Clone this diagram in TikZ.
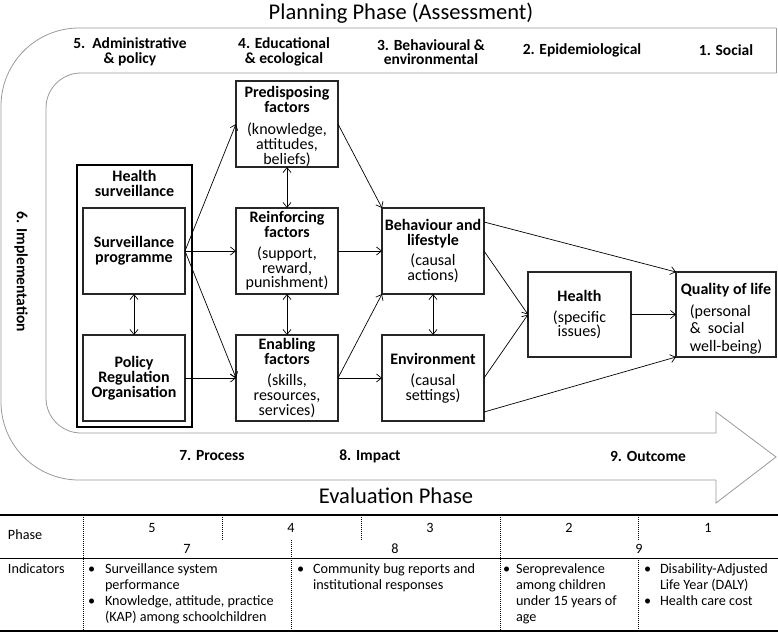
\documentclass[tikz,border=0pt]{standalone}
\usepackage{fontspec}
\setmainfont{Carlito}
\usetikzlibrary{arrows.meta,calc}
\begin{document}
\begin{tikzpicture}[x=1pt,y=-1pt,
  every node/.style={inner sep=0pt, outer sep=0pt},
  boxtext/.style={align=center, font=\fontsize{16}{14.8}\selectfont},
  box/.style={boxtext, draw=black!85, line width=1.1pt, minimum width=102pt, minimum height=86pt},
  band/.style={draw=black!40, line width=0.8pt},
  conn/.style={draw=black, line width=0.7pt, -{Straight Barb[length=5pt,width=8pt]}},
  dconn/.style={draw=black, line width=0.7pt, {Straight Barb[length=5pt,width=8pt]}-{Straight Barb[length=5pt,width=8pt]}},
  lbl/.style={font=\fontsize{15.5}{14.5}\selectfont\bfseries, align=center},
  ttl/.style={font=\fontsize{22.5}{26}\selectfont},
  tab/.style={font=\fontsize{14.2}{16}\selectfont, anchor=mid west},
  tabc/.style={font=\fontsize{14.2}{16}\selectfont},
  vline/.style={draw=black, line width=0.8pt, dash pattern=on 1pt off 1pt},
  hline/.style={draw=black, line width=1.3pt},
]
\useasboundingbox (0,0) rectangle (778,634);

% ---- big U-shaped arrow ----
\draw[band, rounded corners=78] (776,28) -- (1,28) -- (1,480) -- (716,480);
\draw[band] (716,480) -- (716,503) -- (776,457) -- (716,412) -- (716,433);
\draw[band, rounded corners=35] (716,433) -- (46,433) -- (46,73) -- (776,73);
\draw[band] (776,73) -- (776,28);

% ---- titles and band labels ----
\node[ttl] (plan) at (401,13) {Planning Phase (Assessment)};
\node[ttl] (eval) at (396,496) {Evaluation Phase};
\node[lbl] (p5) at (130,52) {5.\ \ Administrative\\\& policy};
\node[lbl] (p4) at (284,52) {4. Educational\\\& ecological};
\node[lbl] (p3) at (431,52) {3. Behavioural \&\\environmental};
\node[lbl] (p2) at (582,50) {2. Epidemiological};
\node[lbl] (p1) at (726,50) {1. Social};
\node[lbl, rotate=-90] (p6) at (21,272) {6. Implementation};
\node[lbl] (p7) at (212,456) {7. Process};
\node[lbl] (p8) at (370,456) {8. Impact};
\node[lbl] (p9) at (648,456) {9. Outcome};

% ---- boxes ----
\node[draw=black, line width=2pt, minimum width=115pt, minimum height=262pt] (hs) at (134.5,296) {};
\node[lbl, anchor=north, font=\fontsize{16}{14.8}\selectfont\bfseries] (hst) at (134.5,170) {Health\\surveillance};
\node[box] (sp) at (134,251) {\textbf{Surveillance}\\\textbf{programme}};
\node[box] (pol) at (134,378) {\textbf{Policy}\\\textbf{Regulation}\\\textbf{Organisation}};
\node[box] (pred) at (287,124) {};
\node[boxtext] (predt) at (287,126.5) {\textbf{Predisposing}\\\textbf{factors}\\[7pt](knowledge,\\attitudes,\\beliefs)};
\node[box] (reinf) at (287,251) {\textbf{Reinforcing}\\\textbf{factors}\\[6pt](support,\\reward,\\punishment)};
\node[box] (enab) at (287,378) {\textbf{Enabling}\\\textbf{factors}\\[6pt](skills,\\resources,\\services)};
\node[box] (beh) at (433,251) {\textbf{Behaviour and}\\\textbf{lifestyle}\\[6pt](causal\\actions)};
\node[box] (env) at (433,378) {\textbf{Environment}\\[6pt](causal\\settings)};
\node[box, minimum width=103pt, minimum height=85pt] (health) at (579.5,314.5) {\textbf{Health}\\[6pt](specific\\issues)};
\node[box, minimum width=100pt, minimum height=85pt] (qol) at (726,314.5) {};
\node[boxtext] (qolt) at (726,320) {\textbf{Quality of life}\\[6pt]{\fontsize{16}{17.5}\selectfont\begin{tabular}{@{}l@{}}(personal\\\&\ \ social\\well-being)\end{tabular}}};

% ---- connectors ----
\draw[conn] (sp.east) -- (pred.west);
\draw[conn] (sp.east) -- (reinf.west);
\draw[conn] (sp.east) -- (enab.west);
\draw[conn] (pol.east) -- (enab.west);
\draw[dconn] (sp.south) -- (pol.north);
\draw[dconn] (pred.south) -- (reinf.north);
\draw[dconn] (reinf.south) -- (enab.north);
\draw[conn] (pred.east) -- (beh.north west);
\draw[conn] (reinf.east) -- (beh.west);
\draw[conn] (enab.east) -- (beh.south west);
\draw[conn] (enab.east) -- (env.west);
\draw[dconn] (beh.south) -- (env.north);
\draw[conn] (beh.east) -- (health.west);
\draw[conn] (env.east) -- (health.west);
\draw[conn] ([yshift=-14pt]beh.north east) -- (qol.north west);
\draw[conn] (health.east) -- (qol.west);
\draw[conn] ([yshift=9pt]env.south east) -- (qol.south west);

% ---- table ----
\draw[hline] (0,515) -- (778,515);
\draw[draw=black, line width=0.9pt] (0,558) -- (778,558);
\draw[hline] (0,631) -- (778,631);
\draw[vline] (83,515) -- (83,631);
\draw[vline] (500,515) -- (500,631);
\draw[vline] (222,515) -- (222,540);
\draw[vline] (361,515) -- (361,540);
\draw[vline] (638,515) -- (638,540);
\draw[vline] (291,540) -- (291,631);
\draw[vline] (638,558) -- (638,631);

\node[tab] (tphase) at (8,537) {Phase};
\node[tab] (tind) at (8,571) {Indicators};
\node[tabc] (n5) at (152,528) {5};
\node[tabc] (n4) at (291,528) {4};
\node[tabc] (n3) at (430,528) {3};
\node[tabc] (n2) at (569,528) {2};
\node[tabc] (n1) at (708,528) {1};
\node[tabc] (n7) at (187,549) {7};
\node[tabc] (n8) at (395,549) {8};
\node[tabc] (n9) at (639,549) {9};

\node[tab] (b7a) at (88,571) {•};
\node[tab] (t7a) at (105,571) {Surveillance system};
\node[tab] (t7b) at (105,587) {performance};
\node[tab] (b7c) at (88,603) {•};
\node[tab] (t7c) at (105,603) {Knowledge, attitude, practice};
\node[tab] (t7d) at (105,619) {(KAP) among schoolchildren};

\node[tab] (b8a) at (297,571) {•};
\node[tab] (t8a) at (313,571) {Community bug reports and};
\node[tab] (t8b) at (313,587) {institutional responses};

\node[tab] (b9a) at (503,571) {•};
\node[tab] (t9a) at (516,571) {Seroprevalence};
\node[tab] (t9b) at (516,587) {among children};
\node[tab] (t9c) at (516,603) {under 15 years of};
\node[tab] (t9d) at (516,619) {age};

\node[tab] (b1a) at (644,571) {•};
\node[tab] (t1a) at (660,571) {Disability-Adjusted};
\node[tab] (t1b) at (660,587) {Life Year (DALY)};
\node[tab] (b1c) at (644,603) {•};
\node[tab] (t1c) at (660,603) {Health care cost};
\end{tikzpicture}
\end{document}
